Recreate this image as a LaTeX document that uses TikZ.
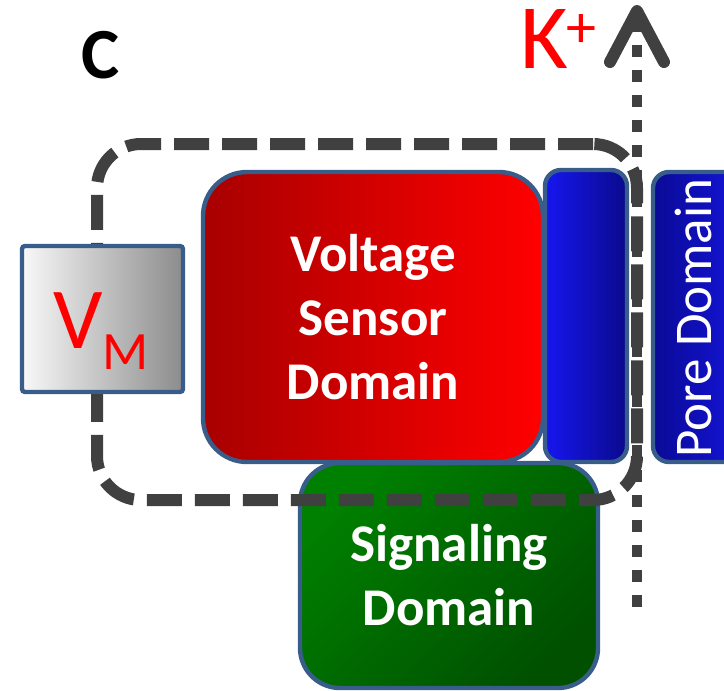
\documentclass[tikz,border=0pt]{standalone}
\usepackage{fontspec}
\setmainfont{Carlito}
\usetikzlibrary{arrows.meta}
\definecolor{edgeblue}{RGB}{56,93,138}
\definecolor{dashgray}{RGB}{64,64,64}
\definecolor{ionred}{RGB}{255,0,0}
\definecolor{vsdleft}{RGB}{168,0,0}
\definecolor{vsdmid}{RGB}{248,0,0}
\definecolor{vsdright}{RGB}{255,0,0}
\definecolor{linkleft}{RGB}{22,22,240}
\definecolor{linkright}{RGB}{10,10,140}
\definecolor{poreleft}{RGB}{10,10,150}
\definecolor{poreright}{RGB}{25,25,245}
\definecolor{sigleft}{RGB}{0,128,0}
\definecolor{sigmid}{RGB}{0,115,0}
\definecolor{sigright}{RGB}{0,80,0}
\definecolor{vmleft}{RGB}{248,248,248}
\definecolor{vmright}{RGB}{140,140,140}

\begin{document}
\begin{tikzpicture}[x=0.5pt,y=-0.5pt,
  dombox/.style={draw=edgeblue,line width=2.2pt,inner sep=0pt,align=center,
    text=white},
  bigtext/.style={font=\fontsize{26.5}{32}\selectfont\bfseries},
  groupbox/.style={draw=dashgray,line width=6pt,dash pattern=on 17.5pt off 6.5pt,
    rounded corners=22pt,inner sep=0pt},
  kflow/.style={draw=dashgray,line width=5pt,dash pattern=on 6pt off 6.5pt,
    -{Straight Barb[length=25.5pt,width=27pt,line width=6pt,round]}}
]
  \useasboundingbox (0,0) rectangle (724,691);
  \clip (0,0) rectangle (724,691);

  \node[font=\fontsize{36}{36}\selectfont\bfseries] (panel) at (101,55) {C};

  \node[dombox,rounded corners=20pt,minimum width=149pt,minimum height=112.5pt,
    left color=sigleft,middle color=sigmid,right color=sigright,shading angle=45,
    bigtext] (signal) at (449,575.5) {Signaling\\Domain};

  \node[groupbox,minimum width=270pt,minimum height=178pt] (sensor) at (367,322) {};

  \node[dombox,rounded corners=22pt,minimum width=170pt,minimum height=145pt,
    left color=vsdleft,middle color=vsdmid,right color=vsdright,
    bigtext] (vsd) at (373,317) {Voltage\\Sensor\\Domain};
  \node[dombox,rounded corners=8pt,minimum width=41pt,minimum height=146pt,
    left color=linkleft,right color=linkright] (linker) at (586,316) {};
  \node[dombox,rounded corners=8pt,minimum width=63.5pt,minimum height=145pt,
    left color=poreleft,middle color=poreright,right color=poreright] (pore) at (716.5,317) {};
  \node[rotate=90,text=white,font=\fontsize{26.5}{30}\selectfont] (poretext) at (693,318)
    {Pore Domain};

  \node[draw=edgeblue,line width=2.2pt,rounded corners=1.5pt,minimum width=80.5pt,
    minimum height=73pt,left color=vmleft,right color=vmright] (vm) at (102.5,319) {};
  \node[anchor=base,inner sep=0pt,text=ionred,font=\fontsize{43.5}{44}\selectfont]
    (vmtext) at (101,348) {V\raisebox{-10.5pt}{\fontsize{27}{27}\selectfont M}};

  \coordinate (kbot) at (637,607);
  \coordinate (ktop) at (637,5);
  \draw[kflow] (kbot) -- (ktop);
  \node[anchor=base west,inner sep=0pt,text=ionred,font=\fontsize{46}{46}\selectfont]
    (ion) at (520,68) {K\kern-1pt\raisebox{0.22em}{\fontsize{30}{30}\selectfont +}};
\end{tikzpicture}
\end{document}
